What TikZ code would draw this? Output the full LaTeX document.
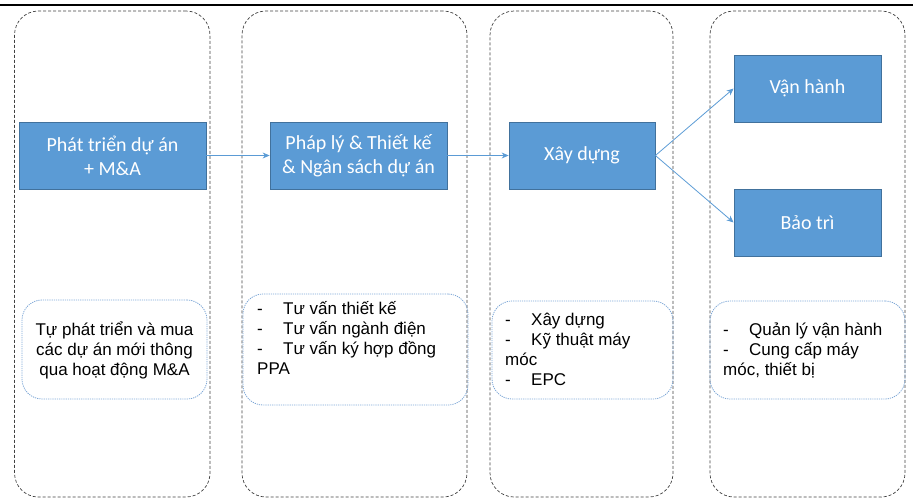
\documentclass[tikz,border=0pt]{standalone}
\usepackage{fontspec}
\setmainfont{Liberation Sans}
\newfontfamily\calibri{Carlito}
\usetikzlibrary{arrows.meta}
\definecolor{boxblue}{HTML}{5B9BD5}
\definecolor{boxedge}{HTML}{41719C}
\definecolor{dotblue}{HTML}{7EA7D6}
\begin{document}
\begin{tikzpicture}[x=1pt,y=-1pt,
  lane/.style={draw=black!75, dash pattern=on 3pt off 2pt, rounded corners=24pt, line width=0.7pt, inner sep=0pt},
  stage/.style={draw=boxedge, fill=boxblue, line width=0.8pt, text=white,
    font=\calibri\fontsize{20}{24}\selectfont, align=center, inner sep=0pt},
  note/.style={draw=dotblue, dash pattern=on 1.2pt off 1pt, rounded corners=20pt, line width=0.8pt, inner sep=0pt},
  notetext/.style={font=\fontsize{17}{20}\selectfont, inner sep=0pt},
  flow/.style={draw=boxblue, line width=0.8pt, -{Stealth[length=7pt,width=6pt]}}]
\useasboundingbox (0,0) rectangle (913,498);
% top rule
\draw[line width=1.2pt] (0,5) -- (913,5);
\draw[line width=2.6pt] (0,5) -- (10,5);
\draw[line width=2pt] (906,5) -- (913,5);
% lanes
\node[lane, minimum width=195.5pt, minimum height=486pt] (lane1) at (112.25,254) {};
\node[lane, minimum width=225pt, minimum height=486pt] (lane2) at (354.5,254) {};
\node[lane, minimum width=183pt, minimum height=486pt] (lane3) at (581.5,254) {};
\node[lane, minimum width=195pt, minimum height=486pt] (lane4) at (807.5,254) {};
% notes
\node[note, minimum width=185pt, minimum height=99pt] (s1) at (114.5,349.5) {};
\node[note, minimum width=225pt, minimum height=111pt] (s2) at (355.5,349.5) {};
\node[note, minimum width=181pt, minimum height=98pt] (s3) at (582.5,350) {};
\node[note, minimum width=195pt, minimum height=98pt] (s4) at (807.5,350) {};
\node[notetext, align=center] (s1t) at (114.5,350) {Tự phát triển và mua\\các dự án mới thông\\qua hoạt động M\&A};
\node[notetext, align=left, anchor=west] (s2t) at (257,337.5)
  {\makebox[26pt][l]{-}Tư vấn thiết kế\\\makebox[26pt][l]{-}Tư vấn ngành điện\\\makebox[26pt][l]{-}Tư vấn ký hợp đồng\\PPA};
\node[notetext, align=left, anchor=west] (s3t) at (505,349.5)
  {\makebox[26pt][l]{-}Xây dựng\\\makebox[26pt][l]{-}Kỹ thuật máy\\móc\\\makebox[26pt][l]{-}EPC};
\node[notetext, align=left, anchor=west] (s4t) at (723,350)
  {\makebox[26pt][l]{-}Quản lý vận hành\\\makebox[26pt][l]{-}Cung cấp máy\\móc, thiết bị};
% stages
\node[stage, minimum width=187pt, minimum height=67pt] (b1) at (112.5,155.5) {Phát triển dự án\\+ M\&A};
\node[stage, minimum width=177pt, minimum height=67pt] (b2) at (358.5,155.5) {Pháp lý \& Thiết kế\\\& Ngân sách dự án};
\node[stage, minimum width=146pt, minimum height=67pt] (b3) at (582,155.5) {Xây dựng};
\node[stage, minimum width=147pt, minimum height=67pt] (b4) at (807.5,88.5) {Vận hành};
\node[stage, minimum width=147pt, minimum height=67pt] (b5) at (807.5,222.5) {Bảo trì};
% arrows
\draw[flow] (b1.east) -- (b2.west);
\draw[flow] (b2.east) -- (b3.west);
\draw[flow] (b3.east) -- (b4.west);
\draw[flow] (b3.east) -- (b5.west);
\end{tikzpicture}
\end{document}
